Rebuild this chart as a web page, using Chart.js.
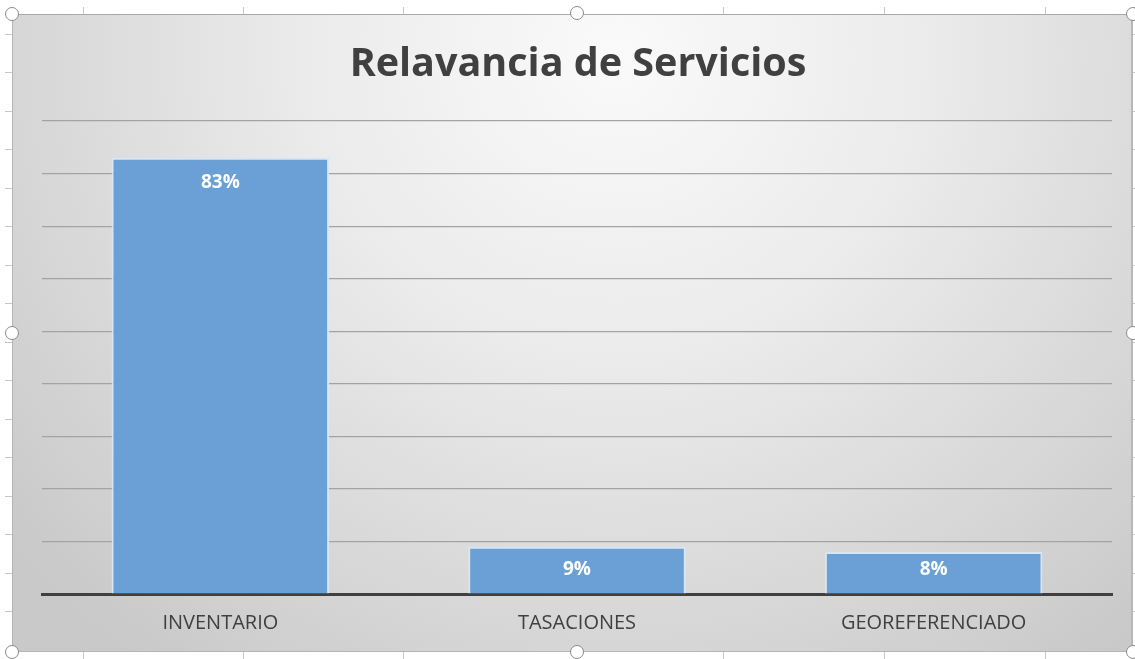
<!DOCTYPE html>
<html>
<head>
<meta charset="utf-8">
<script src="https://cdn.jsdelivr.net/npm/chart.js@4"></script>
<style>
  html, body { margin: 0; padding: 0; background: #fff; }
  body { width: 1135px; height: 659px; position: relative; overflow: hidden; font-family: "Open Sans", sans-serif; }
  #frame {
    position: absolute; left: 12px; top: 14px; width: 1121px; height: 638px;
    box-sizing: border-box;
    border-top: 1px solid #a9a9a9; border-left: 1px solid #b5b5b5;
    border-right: 2px solid #b8b8b8; border-bottom: 1px solid #b5b5b5;
    background: radial-gradient(ellipse 70% 120% at 54% 6%, #fafafa 0%, #ebebeb 40%, #dadada 70%, #c9c9c9 100%);
  }
  #chart { position: absolute; left: 0; top: 0; }
  .tick { position: absolute; background: #c8c8c8; }
  .handle {
    position: absolute; width: 14px; height: 14px; border-radius: 50%;
    background: #fff; border: 1.5px solid #8a8a8a; box-sizing: border-box;
    transform: translate(-50%, -50%);
  }
</style>
</head>
<body>
<div id="frame"><canvas id="chart" width="1118" height="636"></canvas></div>
<div id="marks"></div>
<script>
const title = "Relavancia de Servicios";
const categories = ["INVENTARIO", "TASACIONES", "GEOREFERENCIADO"];
const relevance = [83, 9, 8];
const yMax = 90;
const yStep = 10;

// sheet cell ticks and selection handles around the chart box
const marks = document.getElementById("marks");
function addTick(x, y, w, h) {
  const d = document.createElement("div");
  d.className = "tick";
  Object.assign(d.style, { left: x + "px", top: y + "px", width: w + "px", height: h + "px" });
  marks.appendChild(d);
}
[83, 243, 403, 723, 884, 1045].forEach(x => { addTick(x, 7, 1, 7); addTick(x, 652, 1, 7); });
for (let y = 33.5; y < 652; y += 38.5) { addTick(5, Math.round(y), 7, 1); addTick(1133, Math.round(y), 2, 1); }
[[12, 14], [577, 13], [1133, 14], [12, 333], [1133, 333], [12, 652], [577, 652], [1133, 652]].forEach(([x, y]) => {
  const h = document.createElement("div");
  h.className = "handle";
  h.style.left = x + "px";
  h.style.top = y + "px";
  marks.appendChild(h);
});

const textPlugin = {
  id: "texts",
  afterDatasetsDraw(chart) {
    const ctx = chart.ctx;
    ctx.save();
    ctx.textAlign = "center";
    ctx.textBaseline = "middle";
    // chart title
    ctx.fillStyle = "#404040";
    ctx.font = "bold 39.5px 'Open Sans'";
    ctx.fillText(title, 565, 50);
    // value labels inside the bar ends
    const meta = chart.getDatasetMeta(0);
    const base = chart.scales.y.getPixelForValue(0);
    ctx.fillStyle = "#ffffff";
    ctx.font = "bold 19px 'Open Sans'";
    meta.data.forEach((bar, i) => {
      const y = Math.min(bar.y + 25, base - 24);
      ctx.fillText(relevance[i] + "%", bar.x, y);
    });
    ctx.restore();
  }
};

new Chart(document.getElementById("chart"), {
  type: "bar",
  data: {
    labels: categories,
    datasets: [{
      data: relevance,
      backgroundColor: "#6aa0d5",
      borderColor: "rgba(214,231,246,0.95)",
      borderWidth: 2,
      borderSkipped: "bottom",
      barPercentage: 0.61,
      categoryPercentage: 1
    }]
  },
  options: {
    responsive: false,
    animation: false,
    events: [],
    layout: { padding: { top: 106, left: 29, right: 19, bottom: 0 } },
    plugins: { legend: { display: false }, tooltip: { enabled: false } },
    scales: {
      x: {
        grid: { display: false, drawTicks: false },
        border: { display: true, color: "#404040", width: 3 },
        ticks: { color: "#404040", font: { family: "Open Sans", size: 20 }, padding: 17 },
        afterFit(scale) { scale.height = 57; }
      },
      y: {
        min: 0,
        max: yMax,
        ticks: { display: false, stepSize: yStep },
        grid: { color: "#a3a3a3", lineWidth: 1.2, drawTicks: false },
        border: { display: false },
        afterFit(scale) { scale.width = 0; }
      }
    }
  },
  plugins: [textPlugin]
});
</script>
</body>
</html>
